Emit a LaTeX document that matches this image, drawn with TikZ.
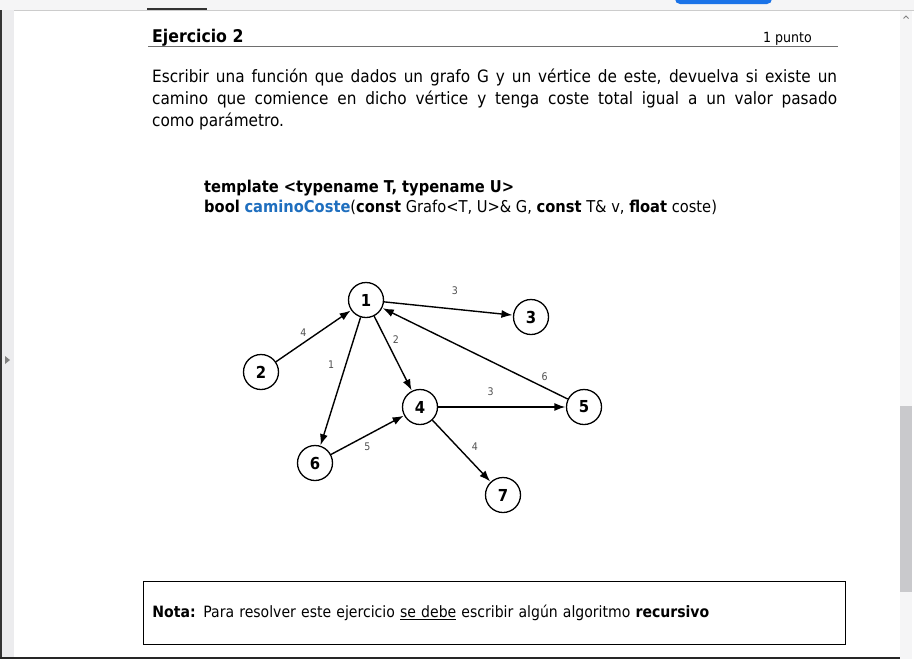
\documentclass[tikz,border=0pt]{standalone}
\usepackage{fontspec}
\setmainfont{DejaVu Sans Condensed}
\usetikzlibrary{arrows.meta}
\definecolor{CBlue}{HTML}{1F6FBF}
\definecolor{CBlueBtn}{HTML}{1A73E8}
\definecolor{CGrayRule}{HTML}{6E6E6E}
\definecolor{CGrayBar}{HTML}{F5F5F6}
\definecolor{CGrayPanel}{HTML}{ECECEE}
\definecolor{CGrayThumb}{HTML}{C9C9CC}
\definecolor{CGrayLabel}{HTML}{505050}

\begin{document}
\begin{tikzpicture}[x=1pt, y=-1pt,
    vertex/.style={draw, circle, line width=1.3pt, minimum size=35pt, inner sep=0pt, font=\fontsize{16.5}{18}\selectfont\bfseries},
    edge/.style={-{Latex[length=11pt,width=8pt]}, line width=1.4pt, shorten >=0.5pt},
    weight/.style={font=\fontsize{10.5}{12}\selectfont, text=CGrayLabel, inner sep=1pt},
    codeline/.style={anchor=base west, inner sep=0pt, font=\fontsize{16.3}{20}\selectfont}
]
  % window
  \useasboundingbox (0,0) rectangle (914,659);
  \fill[white] (0,0) rectangle (914,659);
  \fill[CGrayBar] (0,0) rectangle (914,10);
  \draw[gray!40] (0,10) -- (914,10);
  \fill[black!80] (147,7.5) rectangle (207,10);
  \fill[CBlueBtn, rounded corners=5pt] (675,-10) rectangle (772,4);
  \fill[CGrayPanel] (0,10) rectangle (14,659);
  \fill[black!80] (0,10) rectangle (1.5,659);
  \fill[gray] (5,356) -- (10,360) -- (5,364) -- cycle;
  \fill[CGrayBar] (900,11) rectangle (912,659);
  \fill[CGrayThumb] (900,406) rectangle (912,592);
  \draw[gray, line width=0.8pt] (903.5,18.5) -- (906,16) -- (908.5,18.5);
  \fill[black!85] (0,657) rectangle (900,659);

  % header
  \node[anchor=base west, inner sep=0pt, font=\fontsize{17.5}{20}\selectfont\bfseries] (title) at (152,42) {Ejercicio 2};
  \node[anchor=base east, inner sep=0pt, font=\fontsize{14}{17}\selectfont] (points) at (812,42) {1 punto};
  \draw[CGrayRule, line width=1.4pt] (148,46.5) -- (838,46.5);

  % statement
  \node[anchor=north west, inner sep=0pt, text width=685pt, align=justify, font=\fontsize{17}{22}\selectfont] (statement) at (152,69)
    {Escribir una función que dados un grafo G y un vértice de este, devuelva si existe un\linebreak
     camino que comience en dicho vértice y tenga coste total igual a un valor pasado\linebreak
     como parámetro.};

  % signature
  \node[codeline] (tmpl) at (204,192) {\bfseries template <typename T, typename U>};
  \node[codeline] (sig) at (204,212) {\textbf{bool} \textcolor{CBlue}{\textbf{caminoCoste}}(\textbf{const} Grafo<T, U>\& G, \textbf{const} T\& v, \textbf{float} coste)};

  % graph
  \node[vertex] (v1) at (366,300) {1};
  \node[vertex] (v2) at (261,372) {2};
  \node[vertex] (v3) at (531,317) {3};
  \node[vertex] (v4) at (420,407) {4};
  \node[vertex] (v5) at (584,407) {5};
  \node[vertex] (v6) at (315,463) {6};
  \node[vertex] (v7) at (503,495) {7};

  \draw[edge] (v2) -- node[weight, pos=0.44, above left=1pt] {4} (v1);
  \draw[edge] (v1) -- node[weight, pos=0.55, above=13pt] {3} (v3);
  \draw[edge] (v1) -- node[weight, pos=0.32, right=5pt] {2} (v4);
  \draw[edge] (v1) -- node[weight, pos=0.37, left=10pt] {1} (v6);
  \draw[edge] (v5) -- node[weight, pos=0.16, above right=2pt] {6} (v1);
  \draw[edge] (v4) -- node[weight, pos=0.41, above=10pt] {3} (v5);
  \draw[edge] (v6) -- node[weight, pos=0.5, below=6pt] {5} (v4);
  \draw[edge] (v4) -- node[weight, pos=0.58, above right=4pt] {4} (v7);

  % note
  \node[draw, line width=0.9pt, anchor=north west, text width=684pt, inner xsep=9pt, inner ysep=0pt, minimum height=63pt, align=left, font=\fontsize{15.6}{18}\selectfont] (note) at (143,581)
    {\textbf{Nota:} Para resolver este ejercicio \underline{se debe} escribir algún algoritmo \textbf{recursivo}};
\end{tikzpicture}
\end{document}
